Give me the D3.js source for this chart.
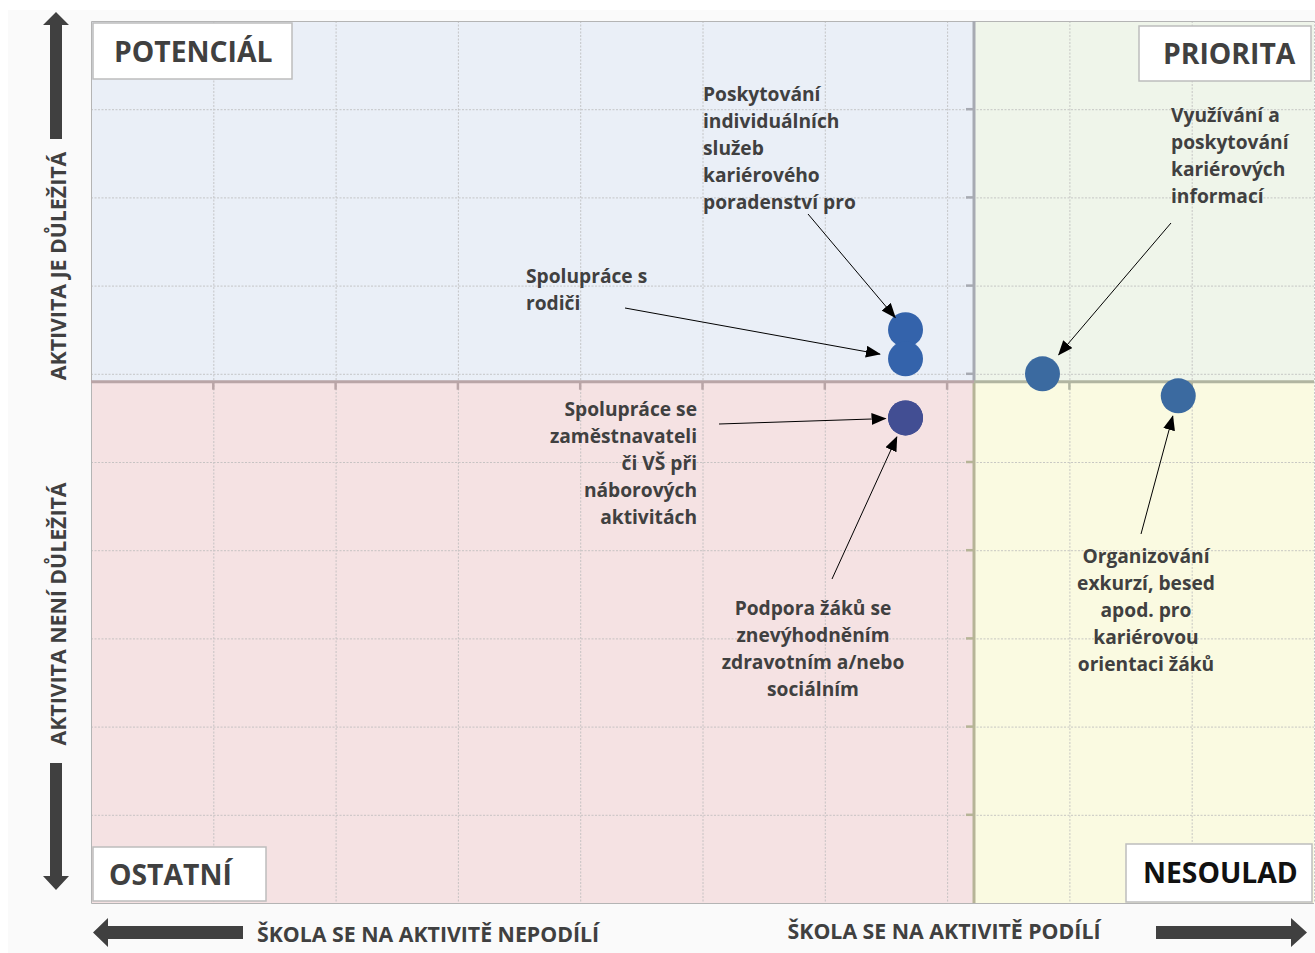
<!DOCTYPE html>
<html>
<head>
<meta charset="utf-8">
<script src="https://cdn.jsdelivr.net/npm/d3@7"></script>
<style>
  body { margin: 0; background: #fff; }
  text { font-family: "Open Sans", sans-serif; font-weight: 700; }
</style>
</head>
<body>
<div id="chart"></div>
<script>
var width = 1315
var height = 953

// activities (label lines), x = škola se podílí, y = důležitost
const activityLines = [
    ["Poskytování", "individuálních", "služeb", "kariérového", "poradenství pro"],
    ["Spolupráce s", "rodiči"],
    ["Spolupráce se", "zaměstnavateli", "či VŠ při", "náborových", "aktivitách"],
    ["Podpora žáků se", "znevýhodněním", "zdravotním a/nebo", "sociálním"],
    ["Využívání a", "poskytování", "kariérových", "informací"],
    ["Organizování", "exkurzí, besed", "apod. pro", "kariérovou", "orientaci žáků"]
];
const xValues = [66.6, 66.6, 66.6, 66.6, 77.8, 88.9];
const yValues = [65.0, 61.7, 55.0, 55.0, 60.0, 57.5];

// where the axes cross (averages)
const xCross = 72.2;
const yCross = 59.1;

const xTicks = [0, 10, 20, 30, 40, 50, 60, 70, 80, 90, 100];
const yTicks = [0, 10, 20, 30, 40, 50, 60, 70, 80, 90, 100];

const quadrantNames = ["POTENCIÁL", "PRIORITA", "OSTATNÍ", "NESOULAD"];
const axisTexts = ["AKTIVITA JE DŮLEŽITÁ", "AKTIVITA NENÍ DŮLEŽITÁ",
                   "ŠKOLA SE NA AKTIVITĚ NEPODÍLÍ", "ŠKOLA SE NA AKTIVITĚ PODÍLÍ"];

// label placement (layout only)
const pointColors = ["#3463ab", "#3463ab", "#424e93", "#424e93", "#3b6aa0", "#3b6aa0"];
const labelLayout = [
    {anchor: "start",  x: 703,  y: 101, ax: 808,  ay: 214, gap: 16},
    {anchor: "start",  x: 526,  y: 283, ax: 625,  ay: 308, gap: 26},
    {anchor: "end",    x: 697,  y: 416, ax: 719,  ay: 424, gap: 20},
    {anchor: "middle", x: 813,  y: 615, ax: 832,  ay: 579, gap: 21},
    {anchor: "start",  x: 1171, y: 122, ax: 1171, ay: 223, gap: 25},
    {anchor: "middle", x: 1146, y: 563, ax: 1141, ay: 534, gap: 21}
];

function drawChart() {
    const left = 91, right = 1314, top = 21, bottom = 903;

    const x = d3.scaleLinear().domain([0, 100]).range([left, right]);
    const y = d3.scaleLinear().domain([0, 100]).range([bottom, top]);

    const svg = d3.select("#chart").append("svg")
        .attr("width", width)
        .attr("height", height);

    const defs = svg.append("defs");
    defs.append("marker")
        .attr("id", "head")
        .attr("markerUnits", "userSpaceOnUse")
        .attr("markerWidth", 15)
        .attr("markerHeight", 12)
        .attr("refX", 14)
        .attr("refY", 6)
        .attr("orient", "auto")
        .append("path")
        .attr("d", "M0,0L15,6L0,12Z")
        .attr("fill", "#000");

    // page background
    svg.append("rect").attr("x", 8).attr("y", 10).attr("width", width - 8).attr("height", height - 10)
        .attr("fill", "#fafafa");

    const cx = x(xCross), cy = y(yCross);

    // quadrants
    const quads = [
        {x0: left, x1: cx, y0: top, y1: cy, fill: "#eaeff7"},
        {x0: cx, x1: right, y0: top, y1: cy, fill: "#eff5ea"},
        {x0: left, x1: cx, y0: cy, y1: bottom, fill: "#f5e2e3"},
        {x0: cx, x1: right, y0: cy, y1: bottom, fill: "#fafae1"}
    ];
    svg.append("g").selectAll("rect")
        .data(quads)
        .join("rect")
        .attr("x", d => d.x0)
        .attr("y", d => d.y0)
        .attr("width", d => d.x1 - d.x0)
        .attr("height", d => d.y1 - d.y0)
        .attr("fill", d => d.fill);

    // grid
    const grid = svg.append("g").attr("stroke", "#bcbcbc").attr("stroke-width", 1)
        .attr("stroke-dasharray", "2,1.5").attr("opacity", 0.8);
    grid.selectAll(".vg").data(xTicks.slice(1)).join("line")
        .attr("x1", d => x(d) + 0.5).attr("x2", d => x(d) + 0.5)
        .attr("y1", top).attr("y2", bottom);
    grid.selectAll(".hg").data(yTicks.slice(1, -1)).join("line")
        .attr("y1", d => y(d) + 0.5).attr("y2", d => y(d) + 0.5)
        .attr("x1", left).attr("x2", right);

    // plot frame
    svg.append("path")
        .attr("d", `M${right},${top + 0.5}H${left + 0.5}V${bottom + 0.5}H${right}`)
        .attr("fill", "none").attr("stroke", "#b4b4b4").attr("stroke-width", 1);

    // axes through the averages
    const yAxisG = svg.append("g");
    yAxisG.append("line").attr("x1", cx).attr("x2", cx).attr("y1", top).attr("y2", cy)
        .attr("stroke", "#a7aab2").attr("stroke-width", 3);
    yAxisG.append("line").attr("x1", cx).attr("x2", cx).attr("y1", cy).attr("y2", bottom)
        .attr("stroke", "#b6b497").attr("stroke-width", 3);
    yAxisG.selectAll(".yt").data(yTicks.slice(1, -1)).join("line")
        .attr("x1", cx - 8).attr("x2", cx)
        .attr("y1", d => y(d)).attr("y2", d => y(d))
        .attr("stroke", d => y(d) < cy ? "#a7aab2" : "#b6b497").attr("stroke-width", 2.5);

    const xAxisG = svg.append("g");
    xAxisG.append("line").attr("x1", left).attr("x2", cx).attr("y1", cy).attr("y2", cy)
        .attr("stroke", "#b9a5a7").attr("stroke-width", 3);
    xAxisG.append("line").attr("x1", cx).attr("x2", right).attr("y1", cy).attr("y2", cy)
        .attr("stroke", "#b1b5a1").attr("stroke-width", 3);
    xAxisG.selectAll(".xt").data(xTicks.slice(1, -1)).join("line")
        .attr("x1", d => x(d)).attr("x2", d => x(d))
        .attr("y1", cy).attr("y2", cy + 8)
        .attr("stroke", d => x(d) < cx ? "#b9a5a7" : "#b1b5a1").attr("stroke-width", 2.5);

    // quadrant name boxes
    const boxes = [
        {x: 93, y: 23, w: 199, h: 56, tx: 114, ty: 62, color: "#404040"},
        {x: 1139, y: 26, w: 172, h: 55, tx: 1163, ty: 64, color: "#404040"},
        {x: 93, y: 847, w: 173, h: 54, tx: 109, ty: 885, color: "#404040"},
        {x: 1126, y: 844, w: 186, h: 58, tx: 1143, ty: 883, color: "#111111"}
    ];
    const bx = svg.append("g").selectAll("g").data(boxes).join("g");
    bx.append("rect")
        .attr("x", d => d.x).attr("y", d => d.y).attr("width", d => d.w).attr("height", d => d.h)
        .attr("fill", "#fff").attr("stroke", "#bdbdbd").attr("stroke-width", 1.5);
    bx.append("text")
        .attr("x", d => d.tx).attr("y", d => d.ty)
        .attr("font-size", 28.3).attr("fill", d => d.color)
        .text((d, i) => quadrantNames[i]);

    // points
    const pts = xValues.map((v, i) => ({x: x(v), y: y(yValues[i]), i: i}));
    svg.append("g").selectAll("circle")
        .data(pts)
        .join("circle")
        .attr("cx", d => d.x).attr("cy", d => d.y).attr("r", 17.5)
        .attr("fill", d => pointColors[d.i]);

    // labels + arrows
    const lab = svg.append("g").selectAll("g").data(pts).join("g");
    lab.append("text")
        .attr("text-anchor", d => labelLayout[d.i].anchor)
        .attr("font-size", 19.2).attr("fill", "#404040")
        .selectAll("tspan")
        .data(d => activityLines[d.i].map((t, k) => ({t: t, k: k, L: labelLayout[d.i]})))
        .join("tspan")
        .attr("x", d => d.L.x)
        .attr("y", d => d.L.y + d.k * 27)
        .text(d => d.t);
    lab.append("line")
        .attr("x1", d => labelLayout[d.i].ax)
        .attr("y1", d => labelLayout[d.i].ay)
        .attr("x2", d => {
            const L = labelLayout[d.i];
            const dx = d.x - L.ax, dy = d.y - L.ay, len = Math.hypot(dx, dy);
            return d.x - dx / len * L.gap;
        })
        .attr("y2", d => {
            const L = labelLayout[d.i];
            const dx = d.x - L.ax, dy = d.y - L.ay, len = Math.hypot(dx, dy);
            return d.y - dy / len * L.gap;
        })
        .attr("stroke", "#000").attr("stroke-width", 1)
        .attr("marker-end", "url(#head)");

    // big direction arrows
    const arrows = [
        "M50,139V25H43L56,12L69,25H62V139Z",
        "M50,763V876H43L56,890L69,876H62V763Z",
        "M243,926H108V918L93,932.5L108,947V939H243Z",
        "M1156,926H1291V918L1307,932.5L1291,947V939H1156Z"
    ];
    svg.append("g").selectAll("path").data(arrows).join("path")
        .attr("d", d => d).attr("fill", "#404040");

    // axis captions
    svg.append("text")
        .attr("transform", "translate(66,266) rotate(-90)")
        .attr("text-anchor", "middle").attr("font-size", 21.3).attr("fill", "#404040")
        .text(axisTexts[0]);
    svg.append("text")
        .attr("transform", "translate(66,614) rotate(-90)")
        .attr("text-anchor", "middle").attr("font-size", 21.3).attr("fill", "#404040")
        .text(axisTexts[1]);
    svg.append("text")
        .attr("x", 428).attr("y", 942)
        .attr("text-anchor", "middle").attr("font-size", 21.3).attr("fill", "#404040")
        .text(axisTexts[2]);
    svg.append("text")
        .attr("x", 944).attr("y", 939)
        .attr("text-anchor", "middle").attr("font-size", 21.3).attr("fill", "#404040")
        .text(axisTexts[3]);

    return svg.node();
}

drawChart();
</script>
</body>
</html>
